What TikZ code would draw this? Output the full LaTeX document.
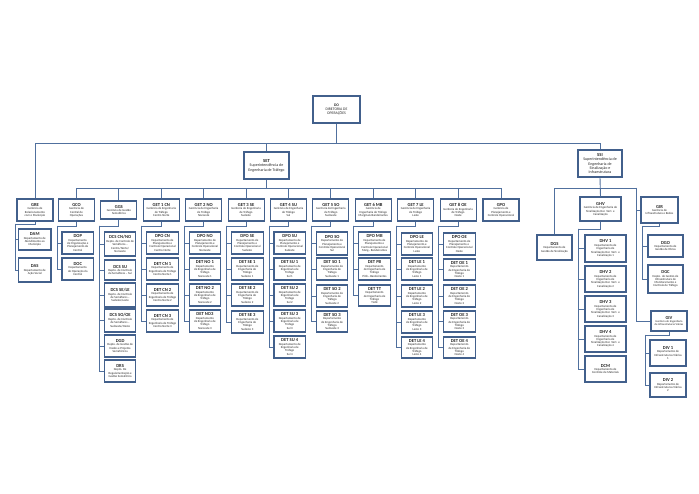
\documentclass[tikz,border=0pt]{standalone}
\usepackage{fontspec}
\setmainfont{Carlito}
\definecolor{bxc}{RGB}{66,96,140}
\definecolor{lnc}{RGB}{80,112,158}
\tikzset{
  x=1pt, y=-1pt,
  bx/.style={draw=bxc, line width=1.1pt, fill=white, inner sep=0pt, align=center,
    font=\fontsize{3.05}{3.3}\selectfont, text=black!85},
  big/.style={font=\fontsize{4}{4.4}\selectfont},
  ln/.style={draw=lnc, line width=0.9pt},
}
\newcommand\Tt[1]{{\fontsize{4.6}{5}\selectfont\bfseries #1}\\[0.3pt]}
\newcommand\Bx[7][]{\node[bx,#1, minimum width={(#5)*1pt-(#3)*1pt}, minimum height={(#6)*1pt-(#4)*1pt}] (#2) at ({((#3)+(#5))/2},{((#4)+(#6))/2}) {#7};}
\newcommand\Pa[3]{\Bx{#1}{#2-18}{199}{#2+18}{221}{#3}}
\newcommand\Ch[5]{\Bx{#1}{#2-14.5}{#3}{#2+17}{#4}{#5}}
\newcommand\Trunk[4]{%
  \coordinate (j#1) at (#2,#3);
  \draw[ln] (#1.south) |- (j#1);
  \foreach \cc in {#4} {\draw[ln] (j#1) |- (\cc.west);}
}
\begin{document}
\begin{tikzpicture}
\fill[white] (0,0) rectangle (699,494);
\useasboundingbox (0,0) rectangle (699,494);
% ---------- top ----------
\Bx[font=\fontsize{3.8}{4.3}\selectfont]{do}{313}{96}{360}{123}{\textbf{DO}\\DIRETORIA DE\\OPERAÇÕES}
\Bx[big]{set}{244}{152}{289}{179}{\Tt{SET}Superintendência de\\Engenharia de Tráfego}
\Bx[big]{ssi}{578}{150}{622}{177}{\Tt{SSI}Superintendência de\\Engenharia de\\Sinalização e\\Infraestrutura}
% ---------- level 2 ----------
\Bx{gre}{17}{199}{53}{221}{\Tt{GRE}Gerência de\\Relacionamento\\com o Município}
\Pa{gco}{76.5}{\Tt{GCO}Gerência de\\Central de\\Operações}
\Bx{ggs}{100.9}{201}{136.9}{219}{\Tt{GGS}Gerência de Gestão\\Semafórica}
\Pa{get1}{161.3}{\Tt{GET 1 CN}Gerência de Engenharia\\de Tráfego\\Centro Norte}
\Pa{get2}{203.7}{\Tt{GET 2 NO}Gerência de Engenharia\\de Tráfego\\Noroeste}
\Pa{get3}{246.1}{\Tt{GET 3 SE}Gerência de Engenharia\\de Tráfego\\Sudeste}
\Pa{get4}{288.5}{\Tt{GET 4 SU}Gerência de Engenharia\\de Tráfego\\Sul}
\Pa{get5}{330.9}{\Tt{GET 5 SO}Gerência de Engenharia\\de Tráfego\\Sudoeste}
\Pa{get6}{373.3}{\Tt{GET 6 MB}Gerência de\\Engenharia de Tráfego\\Marginais Bandeirantes}
\Pa{get7}{415.7}{\Tt{GET 7 LE}Gerência de Engenharia\\de Tráfego\\Leste}
\Pa{get8}{458.1}{\Tt{GET 8 OE}Gerência de Engenharia\\de Tráfego\\Oeste}
\Pa{gpo}{501}{\Tt{GPO}Gerência de\\Planejamento e\\Controle  Operacional}
% ---------- GRE / GCO ----------
\Bx{dam}{18.5}{229}{51}{250}{\Tt{DAM}Departamento de\\Atendimento ao\\Município}
\Bx{das}{18.5}{258}{51}{282}{\Tt{DAS}Departamento de\\Ação Social}
\Ch{dop}{76.5}{232}{254}{\Tt{DOP}Departamento\\de Organização e\\Planejamento da\\Central}
\Ch{doc}{76.5}{258}{280}{\Tt{DOC}Departamento\\de Operação da\\Central}
% ---------- GGS ----------
\Ch{dcs1}{118.9}{232}{256}{\Tt{DCS CN/NO}Depto. de Controle de\\Semáforos –\\Centro/Norte/\\Noroeste}
\Ch{dcs2}{118.9}{260}{280}{\Tt{DCS SU}Depto. de Controle\\de Semáforos – Sul}
\Ch{dcs3}{118.9}{283}{307}{\Tt{DCS SE/LE}Depto. de Controle\\de Semáforos –\\Sudeste/Leste}
\Ch{dcs4}{118.9}{309}{332}{\Tt{DCS SO/OE}Depto. de Controle\\de Semáforos –\\Sudoeste/Oeste}
\Ch{dgd}{118.9}{335}{357}{\Tt{DGD}Depto. de Gestão de\\Dados e Projetos\\Semafóricos}
\Ch{drs}{118.9}{360}{382}{\Tt{DRS}Depto. De\\Regulamentação e\\Gestão Semafórica}
% ---------- GET 1 ----------
\Ch{dpocn}{161.3}{232}{254}{\Tt{DPO CN}Departamento de\\Planejamento e\\Controle Operacional\\Centro Norte}
\Ch{cn1}{161.3}{258}{280}{\Tt{DET CN 1}Departamento de\\Engenharia de Tráfego\\Centro Norte 1}
\Ch{cn2}{161.3}{284}{306}{\Tt{DET CN 2}Departamento de\\Engenharia de Tráfego\\Centro Norte 2}
\Ch{cn3}{161.3}{310}{332}{\Tt{DET CN 3}Departamento de\\Engenharia de Tráfego\\Centro Norte 3}
% ---------- GET 2 ----------
\Ch{dpono}{203.7}{232}{254}{\Tt{DPO NO}Departamento de\\Planejamento e\\Controle Operacional\\Noroeste}
\Ch{no1}{203.7}{258}{280}{\Tt{DET NO 1}Departamento\\de Engenharia de\\Tráfego\\Noroeste 1}
\Ch{no2}{203.7}{284}{306}{\Tt{DET NO 2}Departamento\\de Engenharia de\\Tráfego\\Noroeste 2}
\Ch{no3}{203.7}{310}{332}{\Tt{DET NO3}Departamento\\de Engenharia de\\Tráfego\\Noroeste 3}
% ---------- GET 3 ----------
\Ch{dpose}{246.1}{232}{254}{\Tt{DPO SE}Departamento de\\Planejamento e\\Controle Operacional\\Sudeste}
\Ch{se1}{246.1}{258}{280}{\Tt{DET SE 1}Departamento de\\Engenharia de\\Tráfego\\Sudeste 1}
\Ch{se2}{246.1}{284}{306}{\Tt{DET  SE 2}Departamento de\\Engenharia de\\Tráfego\\Sudeste 2}
\Ch{se3}{246.1}{311}{333}{\Tt{DET SE 3}Departamento de\\Engenharia de\\Tráfego\\Sudeste 3}
% ---------- GET 4 ----------
\Ch{dposu}{288.5}{232}{254}{\Tt{DPO SU}Departamento de\\Planejamento e\\Controle Operacional\\Sudeste}
\Ch{su1}{288.5}{258}{280}{\Tt{DET SU 1}Departamento de\\Engenharia de\\Tráfego\\Sul 1}
\Ch{su2}{288.5}{284}{306}{\Tt{DET SU 2}Departamento de\\Engenharia de\\Tráfego\\Sul 2}
\Ch{su3}{288.5}{310}{332}{\Tt{DET SU 3}Departamento de\\Engenharia de\\Tráfego\\Sul 3}
\Ch{su4}{288.5}{336}{358}{\Tt{DET SU 4}Departamento de\\Engenharia de\\Tráfego\\Sul 4}
% ---------- GET 5 ----------
\Ch{dposo}{330.9}{232}{255}{\Tt{DPO SO}Departamento de\\Planejamento e\\Controle Operacional\\Sul}
\Ch{so1}{330.9}{258}{280}{\Tt{DET SO 1}Departamento de\\Engenharia de\\Tráfego\\Sudoeste 1}
\Ch{so2}{330.9}{285}{307}{\Tt{DET SO 2}Departamento de\\Engenharia de\\Tráfego\\Sudoeste 2}
\Ch{so3}{330.9}{311}{332}{\Tt{DET SO 3}Departamento\\de Engenharia de\\Tráfego\\Sudoeste 3}
% ---------- GET 6 ----------
\Ch{dpomb}{373.3}{232}{255}{\Tt{DPO MB}Departamento de\\Planejamento e\\Controle Operacional\\Marg.- Bandeirantes}
\Ch{pb}{373.3}{258}{280}{\Tt{DET PB}Departamento\\de Engenharia de\\Tráfego\\Pinh.- Bandeirantes}
\Ch{tt}{373.3}{285}{306}{\Tt{DET TT}Departamento\\de Engenharia de\\Tráfego\\Tietê}
% ---------- GET 7 ----------
\Ch{dpole}{415.7}{233}{255}{\Tt{DPO LE}Departamento de\\Planejamento e\\Controle Operacional\\Leste}
\Ch{le1}{415.7}{258}{280}{\Tt{DET LE 1}Departamento\\de Engenharia de\\Tráfego\\Leste 1}
\Ch{le2}{415.7}{285}{307}{\Tt{DET LE 2}Departamento\\de Engenharia de\\Tráfego\\Leste 2}
\Ch{le3}{415.7}{311}{333}{\Tt{DET LE 3}Departamento\\de Engenharia de\\Tráfego\\Leste 3}
\Ch{le4}{415.7}{337}{358}{\Tt{DET LE 4}Departamento\\de Engenharia de\\Tráfego\\Leste 4}
% ---------- GET 8 ----------
\Ch{dpooe}{458.1}{233}{255}{\Tt{DPO OE}Departamento de\\Planejamento e\\Controle Operacional\\Oeste}
\Ch{oe1}{458.1}{259}{280}{\Tt{DET OE 1}Departamento\\de Engenharia de\\Tráfego\\Oeste 1}
\Ch{oe2}{458.1}{285}{307}{\Tt{DET OE 2}Departamento\\de Engenharia de\\Tráfego\\Oeste 2}
\Ch{oe3}{458.1}{311}{332}{\Tt{DET OE 3}Departamento\\de Engenharia de\\Tráfego\\Oeste 3}
\Ch{oe4}{458.1}{337}{358}{\Tt{DET OE 4}Departamento\\de Engenharia de\\Tráfego\\Oeste 4}
% ---------- SSI side ----------
\Bx{dgs}{537}{235}{572}{260}{\Tt{DGS}Departamento de\\Gestão de Sinalização}
\Bx{ghv}{580}{197}{621}{221}{\Tt{GHV}Gerência de Engenharia de\\Sinalização Hor. Vert. e\\Canalização}
\Bx{dhv1}{585}{235}{626}{262}{\Tt{DHV 1}Departamento de\\Engenharia de\\Sinalização Hor. Vert. e\\Canalização 1}
\Bx{dhv2}{585}{266}{626}{292}{\Tt{DHV 2}Departamento de\\Engenharia de\\Sinalização Hor. Vert. e\\Canalização 2}
\Bx{dhv3}{585}{296}{626}{322}{\Tt{DHV 3}Departamento de\\Engenharia de\\Sinalização Hor. Vert. e\\Canalização 3}
\Bx{dhv4}{585}{326}{626}{352}{\Tt{DHV 4}Departamento de\\Engenharia de\\Sinalização Hor. Vert. e\\Canalização 4}
\Bx{dcm}{585}{356}{626}{382}{\Tt{DCM}Departamento de\\Controle de Materiais}
\Bx{gir}{641}{197}{678}{223}{\Tt{GIR}Gerência de\\Infraestrutura e Redes}
\Bx{dgo}{648}{235}{683}{257}{\Tt{DGO}Departamento de\\Gestão de Obras}
\Bx{dgc}{648}{265}{683}{293}{\Tt{DGC}Depto. de Gestão de\\Infraestrutura de\\Monitoramento e\\Controle de Tráfego}
\Bx[font=\fontsize{2.8}{3.1}\selectfont]{giv}{651}{311}{687}{331}{\Tt{GIV}Gerência de Engenharia\\de Infraestruturas Viárias}
\Bx{div1}{650}{340}{686}{366}{\Tt{DIV 1}Departamento de\\Infraestruturas Viárias\\1}
\Bx{div2}{650}{373}{686}{397}{\Tt{DIV 2}Departamento de\\Infraestruturas Viárias\\2}
% ---------- buses ----------
\coordinate (busA) at (0,143);
\coordinate (busB) at (0,188);
\draw[ln] (do.south) -- (do.south |- busA);
\draw[ln] (gre.north) -- (gre.north |- busA) -| (ssi.north);
\draw[ln] (set.north) -- (set.north |- busA);
\draw[ln] (set.south) -- (set.south |- busB);
\draw[ln] (gco.north) -- (gco.north |- busB) -| (gpo.north);
\foreach \n in {ggs,get1,get2,get3,get4,get5,get6,get7,get8}
  {\draw[ln] (\n.north) -- (\n.north |- busB);}
\draw[ln] (ssi.south) -- (ghv.north);
\coordinate (tssi) at (636,188);
\draw[ln] (dgs.north) |- (tssi);
\draw[ln] (tssi) |- (gir.west);
\draw[ln] (tssi) |- (giv.west);
% ---------- trunks ----------
\Trunk{gre}{15.5}{224}{dam,das}
\Trunk{gco}{57}{226}{dop,doc}
\Trunk{ggs}{99.4}{226}{dcs1,dcs2,dcs3,dcs4,dgd,drs}
\Trunk{get1}{141.8}{226}{dpocn,cn1,cn2,cn3}
\Trunk{get2}{184.2}{226}{dpono,no1,no2,no3}
\Trunk{get3}{226.6}{226}{dpose,se1,se2,se3}
\Trunk{get4}{269}{226}{dposu,su1,su2,su3,su4}
\Trunk{get5}{311.4}{226}{dposo,so1,so2,so3}
\Trunk{get6}{353.8}{226}{dpomb,pb,tt}
\Trunk{get7}{396.2}{226}{dpole,le1,le2,le3,le4}
\Trunk{get8}{438.6}{226}{dpooe,oe1,oe2,oe3,oe4}
\Trunk{ghv}{578}{229}{dhv1,dhv2,dhv3,dhv4,dcm}
\Trunk{gir}{642.5}{226}{dgo,dgc}
\Trunk{giv}{645}{335}{div1,div2}
\end{tikzpicture}
\end{document}
